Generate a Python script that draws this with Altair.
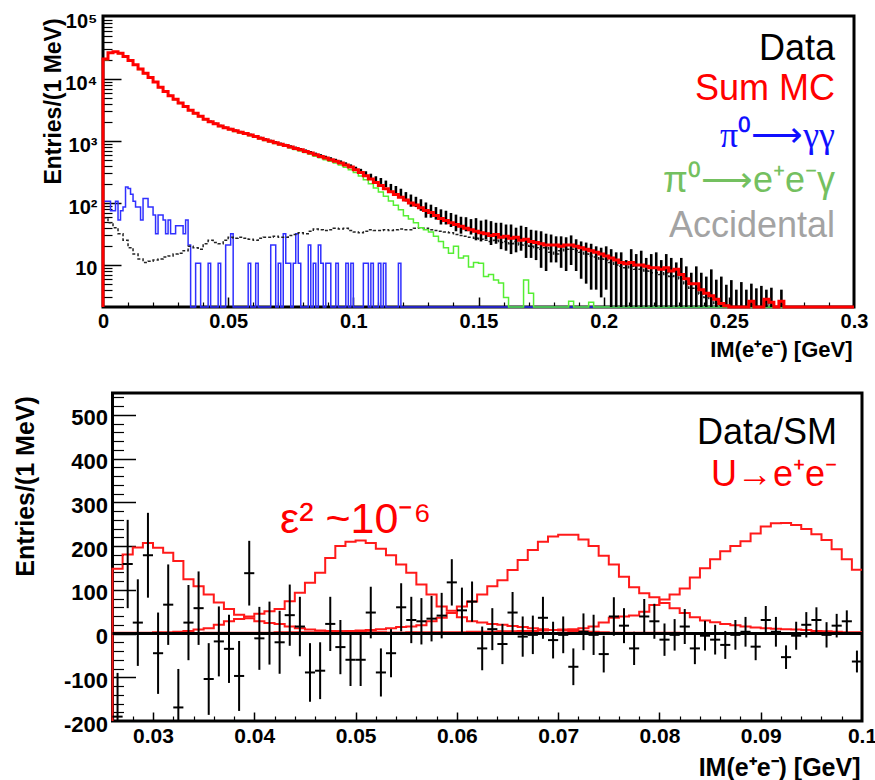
import altair as alt
import pandas as pd

W, H = 875, 780
FONT = "Liberation Sans"
SERIF = "Liberation Serif"

# ------------------------------------------------------------------
# Top panel : IM(e+e-) spectrum, log scale
# ------------------------------------------------------------------
TOP_X = [0.0, 0.3]
TOP_Y = [2.1, 1.04e5]
TOP_BIN = 0.002          # 2 MeV bins, starting at 0

sum_mc = [
    21000, 26500, 27500, 26000, 23000, 20000, 17000, 14500, 12400, 10600,
    9000, 7400, 6300, 5400, 4700, 4100, 3600, 3150, 2800, 2500,
    2250, 2050, 1900, 1750, 1630, 1550, 1460, 1380, 1320, 1250,
    1180, 1110, 1050, 990, 940, 890, 850, 800, 760, 720,
    680, 640, 600, 565, 530, 500, 470, 440, 410, 380,
    345, 310, 275, 245, 215, 192, 170, 152, 137, 124,
    112, 100, 93, 84, 76, 70, 63, 56, 52, 48,
    45, 42, 39, 37, 35, 33, 32, 30, 31, 28,
    29, 27, 28, 25, 26, 24, 23, 22, 21, 21,
    21, 20, 21, 21, 20, 19, 18, 17, 16, 15,
    14, 13, 12, 11, 10.5, 11, 10, 10, 9.5, 9,
    9, 8.5, 9, 8, 8.5, 7, 6, 5, 5, 4,
    3.5, 3.2, 2.8, 2.4, 2.2, 0, 0, 0, 0, 2.6,
    0, 0, 2.8, 2.5, 0, 2.6, 0, 0, 0, 0,
    0, 0, 0, 0, 0, 0, 0, 0, 0, 0,
]

pi0_dalitz = [
    20500, 26000, 27000, 25500, 22600, 19700, 16700, 14300, 12200, 10400,
    8850, 7300, 6200, 5300, 4620, 4030, 3540, 3100, 2750, 2460,
    2210, 2010, 1860, 1720, 1600, 1520, 1430, 1350, 1290, 1220,
    1150, 1080, 1020, 960, 910, 860, 820, 770, 730, 690,
    650, 610, 570, 535, 500, 470, 440, 410, 378, 345,
    310, 272, 238, 205, 175, 150, 128, 108, 92, 78,
    62, 55, 48, 40, 37, 34, 29, 24, 19, 15.5,
    20, 13, 14, 9.3, 11, 10.7, 6.5, 7, 5.7, 5.1,
    3, 0, 0, 0, 5.7, 3.5, 0, 0, 0, 0,
    0, 0, 0, 2.6, 0, 0, 0, 2.5, 0, 0,
    0, 0, 0, 0, 0, 0, 0, 0, 0, 0,
    0, 0, 0, 0, 0, 0, 0, 0, 0, 0,
    0, 0, 0, 0, 0, 0, 0, 0, 0, 0,
    0, 0, 0, 0, 0, 0, 0, 0, 0, 0,
    0, 0, 0, 0, 0, 0, 0, 0, 0, 0,
]

accidental = [
    58, 48, 40, 32, 25, 19, 15, 12.5, 11, 11.5,
    12, 12.5, 13.5, 14, 15, 15.5, 17, 20, 19, 18,
    22, 25, 23, 22, 25, 28, 27, 28, 27, 26,
    25, 27, 28, 28, 29, 28, 28, 30, 31, 33,
    32, 35, 38, 37, 36, 37, 39, 38, 39, 36,
    34, 33, 35, 37, 36, 36, 37, 36, 37, 38,
    37, 37, 39, 40, 39, 37, 36, 35, 34, 33,
    31, 30, 29, 28, 27, 26, 25, 24, 25, 23,
    24, 22, 24, 21, 22, 20, 19, 18, 19, 16,
    15, 17, 18, 18, 17, 16, 15, 14, 13.5, 12.5,
    12, 11, 10, 9.5, 9, 9.5, 8.5, 8.5, 8, 7.5,
    7.5, 7, 7.5, 6.5, 7, 6, 5, 4.2, 4.2, 3.4,
    3, 2.8, 2.4, 2.2, 0, 0, 0, 0, 0, 2.3,
    0, 0, 2.5, 0, 0, 2.3, 0, 0, 0, 0,
    0, 0, 0, 0, 0, 0, 0, 0, 0, 0,
]

data_top = [
    21500, 27000, 28000, 26500, 23400, 20300, 17300, 14700, 12600, 10800,
    9150, 7550, 6400, 5500, 4800, 4180, 3680, 3220, 2860, 2560,
    2300, 2100, 1940, 1790, 1670, 1590, 1500, 1420, 1350, 1280,
    1210, 1140, 1080, 1020, 965, 915, 870, 825, 785, 745,
    705, 665, 625, 590, 555, 525, 495, 465, 432, 400,
    365, 328, 300, 272, 240, 228, 205, 178, 160, 145,
    128, 112, 106, 95, 80, 76, 70, 62, 60, 55,
    50, 46, 47, 43, 41, 38, 40, 36, 35, 33,
    31, 30, 28, 30, 27, 25, 24, 22, 20, 21,
    20, 19, 18, 20, 17, 15, 14, 13, 12, 11,
    12, 10, 8, 9, 6, 10, 8, 9, 7, 8,
    9, 6, 8, 7, 6, 7, 5, 4, 5, 4,
    3.5, 4.5, 3, 3.5, 2.5, 3, 2, 2.8, 2, 2.6,
    2.2, 2.4, 2, 2.3, 0, 2.1, 0, 0, 0, 0,
    0, 0, 0, 0, 0, 0, 0, 0, 0, 0,
]

data_top_err = [
    150, 170, 170, 160, 150, 140, 130, 120, 110, 100,
    95, 87, 80, 74, 69, 65, 61, 57, 53, 51,
    48, 46, 44, 42, 41, 40, 39, 38, 37, 36,
    35, 34, 33, 32, 31, 30, 30, 29, 28, 27,
    27, 26, 25, 24, 24, 23, 22, 22, 21, 20,
    20, 28, 25, 25, 30, 25, 25, 25, 28, 25,
    22, 25, 20, 20, 22, 18, 16, 17, 15, 14,
    15, 14, 12, 12, 16, 14, 14, 15, 13, 15,
    14, 15, 12, 13, 14, 12, 12, 13, 12, 10,
    9, 10, 10, 10, 9, 9, 9, 9, 8, 8,
    8, 8, 8, 7, 6, 8, 7, 8, 6, 7,
    7, 6, 7, 6, 5, 6, 4.5, 3.5, 4.5, 3.5,
    3, 4, 2.8, 3, 2.3, 2.7, 2, 2.5, 2, 2.4,
    2, 2.2, 2, 2, 0, 1.9, 0, 0, 0, 0,
    0, 0, 0, 0, 0, 0, 0, 0, 0, 0,
]

# pi0 -> gamma gamma : 1 MeV bins from 0 to 0.12 GeV, empty up to 0.3 GeV
GG_BIN = 0.001
pi0_gg = [
    107, 107, 107, 75, 75, 107, 53, 75, 86, 182,
    171, 139, 107, 86, 86, 53, 118, 118, 86, 86,
    64, 32, 64, 64, 53, 32, 53, 32, 32, 43,
    43, 43, 32, 53, 21, 0, 0, 10.7, 10.7, 0,
    0, 0, 10.7, 0, 0, 0, 10.7, 0, 0, 21,
    21, 32, 0, 0, 0, 0, 0, 0, 10.7, 0,
    0, 10.7, 0, 0, 0, 0, 0, 21, 21, 0,
    10.7, 0, 32, 10.7, 10.7, 0, 10.7, 32, 10.7, 0,
    0, 0, 21, 0, 10.7, 0, 21, 10.7, 0, 10.7,
    10.7, 0, 0, 10.7, 0, 0, 0, 10.7, 0, 10.7,
    0, 0, 0, 0, 10.7, 10.7, 0, 10.7, 0, 0,
    10.7, 0, 10.7, 0, 0, 0, 0, 0, 10.7, 0,
    0,
]

# ------------------------------------------------------------------
# Bottom panel : Data/SM and U -> e+e- signal shapes (1 MeV bins)
# ------------------------------------------------------------------
BOT_X = [0.026, 0.1]
BOT_Y = [-200, 550]
BOT_BIN = 0.001

data_sm = [
    -190, 159, 25, 179, -45, 66, -169, 25, 58, -104,
    -18, -35, -97, 138, -11, 1, -20, 42, 16, -89,
    -85, 22, -31, -60, -60, 48, -89, -45, 60, 31,
    28, 34, 41, 117, 53, 73, -34, 10, -24, 48,
    -7, -3, 36, -15, -3, -76, 4, -3, -47, 39,
    18, -34, 39, 28, -14, -3, 16, -34, -5, -14,
    -26, -3, 4, -30, 31, 4, -54, -5, 20, 31,
    -3, 18, 28, -64,
]
data_sm_err = [
    100, 101, 99, 97, 93, 92, 88, 86, 84, 82,
    80, 78, 80, 74, 72, 72, 72, 70, 68, 67,
    65, 62, 62, 60, 60, 59, 55, 55, 55, 53,
    53, 52, 52, 53, 52, 46, 50, 48, 46, 47,
    46, 44, 48, 42, 42, 42, 42, 46, 42, 44,
    40, 38, 40, 40, 37, 36, 40, 36, 34, 34,
    32, 34, 34, 31, 32, 34, 27, 32, 29, 29,
    29, 27, 25, 25,
]

u_30 = [
    148, 181, 197, 207, 196, 185, 166, 124, 108, 89,
    71, 56, 43, 35, 28, 24, 22, 16, 12, 9,
    7, 6, 5, 4, 4, 3, 3, 2, 2, 2,
    1, 1, 1, 1, 1, 1, 1, 1, 1, 1,
    0, 0, 0, 0, 0, 0, 0, 0, 0, 0,
    0, 0, 0, 0, 0, 0, 0, 0, 0, 0,
    0, 0, 0, 0, 0, 0, 0, 0, 0, 0,
    0, 0, 0, 0,
]
u_50 = [
    2, 2, 2, 2, 3, 3, 4, 6, 9, 12,
    20, 28, 33, 39, 45, 51, 56, 74, 93, 116,
    139, 173, 200, 210, 213, 207, 194, 179, 158, 139,
    112, 89, 62, 52, 37, 28, 25, 22, 20, 17,
    15, 12, 10, 8, 7, 6, 5, 4, 3, 2,
    2, 2, 2, 2, 2, 2, 1, 1, 1, 1,
    1, 1, 1, 1, 1, 1, 1, 1, 1, 1,
    0, 0, 0, 0,
]
u_70 = [
    1, 1, 1, 1, 1, 1, 1, 1, 1, 2,
    2, 2, 2, 2, 2, 2, 3, 3, 3, 3,
    3, 4, 5, 6, 7, 8, 10, 12, 15, 16,
    19, 28, 36, 47, 62, 73, 89, 108, 122, 145,
    168, 191, 210, 222, 226, 226, 215, 200, 178, 158,
    130, 106, 92, 83, 70, 58, 47, 37, 30, 26,
    22, 19, 16, 14, 12, 11, 10, 9, 8, 6,
    5, 4, 3, 3,
]
u_90 = [
    1, 1, 1, 1, 1, 1, 1, 1, 1, 1,
    1, 1, 1, 1, 1, 1, 1, 1, 1, 1,
    1, 1, 2, 2, 2, 2, 2, 2, 2, 3,
    3, 3, 3, 3, 3, 4, 4, 4, 5, 5,
    6, 6, 7, 8, 9, 10, 12, 16, 25, 36,
    39, 41, 50, 65, 78, 89, 103, 128, 149, 170,
    188, 200, 211, 229, 245, 252, 253, 248, 239, 227,
    214, 193, 170, 146,
]

# ------------------------------------------------------------------
# helpers
# ------------------------------------------------------------------
def step_rows(x0, width, values, name, start=None, end=None):
    rows = []
    if start is not None:
        rows.append({"x": x0, "v": start, "s": name, "k": -1})
    for i, v in enumerate(values):
        rows.append({"x": x0 + i * width, "v": v, "s": name, "k": i})
    xe = end if end is not None else x0 + len(values) * width
    rows.append({"x": xe, "v": values[-1], "s": name, "k": len(values)})
    return pd.DataFrame(rows)


def tick_axis(orient, offset, values, size, width=1.5):
    return alt.Axis(orient=orient, offset=offset, values=values, labels=False,
                    domain=False, grid=False, ticks=True, tickSize=size,
                    tickWidth=width, tickColor="black", title="")


xs_top = alt.Scale(domain=TOP_X, range=[103, 854], nice=False, zero=False)
ys_top = alt.Scale(type="log", domain=TOP_Y, range=[307, 16], nice=False, clamp=True)
xs_bot = alt.Scale(domain=BOT_X, range=[112.5, 862], nice=False, zero=False)
ys_bot = alt.Scale(domain=BOT_Y, range=[721, 393], nice=False, zero=False, clamp=True)

# --- axes, top panel
top_x_lab = alt.Axis(orient="bottom", offset=307 - H, values=[0, 0.05, 0.1, 0.15, 0.2, 0.25, 0.3],
                     labelExpr="'' + datum.value", ticks=False, tickSize=0, domain=False, grid=False,
                     labelPadding=4, labelFontSize=20, labelFlush=False, labelOverlap=False,
                     title="IM(e\u207ae\u207b) [GeV]", titleX=852, titleY=49, titleAlign="right",
                     titleBaseline="alphabetic", titleFontSize=22)
top_y_lab = alt.Axis(orient="left", offset=-103, values=[10, 100, 1000, 10000, 100000],
                     labelExpr="datum.value == 10 ? '10' : '10' + (datum.value == 100 ? '\u00b2' : "
                               "datum.value == 1000 ? '\u00b3' : datum.value == 10000 ? '\u2074' : '\u2075')",
                     ticks=False, tickSize=0, domain=False, grid=False, labelPadding=6,
                     labelFontSize=20, labelOffset=4, labelFlush=False, labelOverlap=False,
                     title="Entries/(1 MeV)", titleX=-43, titleY=101, titleAngle=270,
                     titleAlign="center", titleBaseline="alphabetic", titleFontSize=23)
top_x_major = tick_axis("top", -307, [0.05, 0.1, 0.15, 0.2, 0.25], 10)
top_x_minor = tick_axis("top", -307, [m / 1000 for m in range(10, 300, 10) if m % 50], 5, 1.2)
top_y_major = tick_axis("right", 103 - W, [10, 100, 1000, 10000], 18)
top_y_minor = tick_axis("right", 103 - W,
                        [m * 10 ** p for p in range(0, 5) for m in range(2, 10)
                         if TOP_Y[0] < m * 10 ** p < TOP_Y[1]], 9, 1.2)

# --- axes, bottom panel
bot_x_lab = alt.Axis(orient="bottom", offset=721 - H,
                     values=[0.03, 0.04, 0.05, 0.06, 0.07, 0.08, 0.09, 0.1],
                     labelExpr="'' + datum.value", ticks=False, tickSize=0, domain=False, grid=False,
                     labelPadding=4, labelFontSize=21, labelFlush=False, labelOverlap=False,
                     title="IM(e\u207ae\u207b) [GeV]", titleX=860, titleY=54, titleAlign="right",
                     titleBaseline="alphabetic", titleFontSize=25)
bot_y_lab = alt.Axis(orient="left", offset=-112.5, values=list(range(-200, 501, 100)),
                     labelExpr="'' + datum.value", ticks=False, tickSize=0, domain=False, grid=False,
                     labelPadding=5, labelFontSize=22, labelOffset=3, labelFlush=False,
                     labelOverlap=False, title="Entries/(1 MeV)", titleX=-79, titleY=486,
                     titleAngle=270, titleAlign="center", titleBaseline="alphabetic", titleFontSize=25)
bot_x_major = tick_axis("top", -721, [0.03, 0.04, 0.05, 0.06, 0.07, 0.08, 0.09], 9)
bot_x_minor = tick_axis("top", -721, [m / 1000 for m in range(26, 100, 2) if m % 10], 5, 1.2)
bot_y_major = tick_axis("right", 112.5 - W, [-100, 0, 100, 200, 300, 400, 500], 23)
bot_y_minor = tick_axis("right", 112.5 - W, [v for v in range(-180, 550, 20) if v % 100], 11, 1.2)

# ------------------------------------------------------------------
# top panel layers
# ------------------------------------------------------------------
def top_line(df, color, width, xaxis=None, yaxis=None, dash=None):
    mk = dict(interpolate="step-after", color=color, strokeWidth=width)
    if dash:
        mk["strokeDash"] = dash
    return (alt.Chart(df).transform_calculate(vp="max(datum.v, 1)").mark_line(**mk)
            .encode(x=alt.X("x:Q", scale=xs_top, axis=xaxis),
                    y=alt.Y("vp:Q", scale=ys_top, axis=yaxis),
                    order="k:Q"))


frame_top = alt.Chart(pd.DataFrame({"x0": [TOP_X[0]], "x1": [TOP_X[1]],
                                    "y0": [TOP_Y[0]], "y1": [TOP_Y[1]]})).mark_rect(
    fillOpacity=0, stroke="black", strokeWidth=3).encode(
    x=alt.X("x0:Q", scale=xs_top, axis=top_x_lab), x2="x1:Q",
    y=alt.Y("y0:Q", scale=ys_top, axis=top_y_lab), y2="y1:Q")

gg_line = top_line(step_rows(0.0, GG_BIN, pi0_gg, "gg", start=0, end=TOP_X[1]),
                   "#3030ff", 1.5, top_x_major, top_y_major)
acc_line = top_line(step_rows(0.0, TOP_BIN, accidental, "acc", start=0),
                    "#222222", 1.5, top_x_minor, top_y_minor, dash=[3, 2])
dal_line = top_line(step_rows(0.0, TOP_BIN, pi0_dalitz, "dal", start=0), "#55ee33", 1.5)

df_dtop = pd.DataFrame({"x": [TOP_BIN * (i + 0.5) for i in range(len(data_top))],
                        "v": data_top, "e": data_top_err})
data_rules = (alt.Chart(df_dtop).transform_filter("datum.v > 0")
              .transform_calculate(lo="max(datum.v - datum.e, 1)", hi="datum.v + datum.e")
              .mark_rule(color="black", strokeWidth=2.6)
              .encode(x=alt.X("x:Q", scale=xs_top, axis=None),
                      y=alt.Y("lo:Q", scale=ys_top, axis=None), y2="hi:Q"))

mc_line = top_line(step_rows(0.0, TOP_BIN, sum_mc, "mc", start=0), "#ff0000", 3)

top_group = alt.layer(frame_top, gg_line, acc_line, dal_line, data_rules, mc_line).resolve_axis(
    x="independent", y="independent")

# ------------------------------------------------------------------
# bottom panel layers
# ------------------------------------------------------------------
frame_bot = alt.Chart(pd.DataFrame({"x0": [BOT_X[0]], "x1": [BOT_X[1]],
                                    "y0": [BOT_Y[0]], "y1": [BOT_Y[1]]})).mark_rect(
    fillOpacity=0, stroke="black", strokeWidth=3).encode(
    x=alt.X("x0:Q", scale=xs_bot, axis=bot_x_lab), x2="x1:Q",
    y=alt.Y("y0:Q", scale=ys_bot, axis=bot_y_lab), y2="y1:Q")

df_u = pd.concat([
    step_rows(BOT_X[0], BOT_BIN, u_30, "u30", start=BOT_Y[0]),
    step_rows(BOT_X[0], BOT_BIN, u_50, "u50"),
    step_rows(BOT_X[0], BOT_BIN, u_70, "u70"),
    step_rows(BOT_X[0], BOT_BIN, u_90, "u90"),
], ignore_index=True)
u_lines = alt.Chart(df_u).mark_line(interpolate="step-after", color="#ff1a1a", strokeWidth=2).encode(
    x=alt.X("x:Q", scale=xs_bot, axis=bot_x_major),
    y=alt.Y("v:Q", scale=ys_bot, axis=bot_y_major),
    detail="s:N", order="k:Q")

zero_line = alt.Chart(pd.DataFrame({"x0": [BOT_X[0]], "x1": [BOT_X[1]], "y": [0]})).mark_rule(
    color="black", strokeWidth=3).encode(
    x=alt.X("x0:Q", scale=xs_bot, axis=bot_x_minor), x2="x1:Q",
    y=alt.Y("y:Q", scale=ys_bot, axis=bot_y_minor))

df_dbot = pd.DataFrame({"x": [BOT_X[0] + BOT_BIN * (i + 0.5) for i in range(len(data_sm))],
                        "v": data_sm, "e": data_sm_err})
vbars = (alt.Chart(df_dbot)
         .transform_calculate(lo="datum.v - datum.e", hi="datum.v + datum.e")
         .mark_rule(color="black", strokeWidth=2)
         .encode(x=alt.X("x:Q", scale=xs_bot, axis=None),
                 y=alt.Y("lo:Q", scale=ys_bot, axis=None), y2="hi:Q"))
hbars = (alt.Chart(df_dbot)
         .transform_calculate(xl="datum.x - %f" % (BOT_BIN / 2), xr="datum.x + %f" % (BOT_BIN / 2))
         .mark_rule(color="black", strokeWidth=2)
         .encode(x=alt.X("xl:Q", scale=xs_bot, axis=None), x2="xr:Q",
                 y=alt.Y("v:Q", scale=ys_bot, axis=None)))

bot_group = alt.layer(frame_bot, u_lines, zero_line, vbars, hbars).resolve_axis(
    x="independent", y="independent")

# ------------------------------------------------------------------
# text annotations
# ------------------------------------------------------------------
ONE = pd.DataFrame({"n": [0]})


def note(text, x, y, color, size, font=FONT, align="right"):
    return alt.Chart(ONE).mark_text(text=text, align=align, baseline="alphabetic", font=font,
                                    fontSize=size, color=color).encode(
        x=alt.value(x), y=alt.value(y))


notes = [
    note("Data", 835, 60, "black", 36),
    note("Sum MC", 835, 100, "#ff0000", 36),
    note("\u03c0\u2070\u27f6\u03b3\u03b3", 835, 147, "#1010ff", 36, font=SERIF),
    note("\u03c0\u2070\u27f6e\u207ae\u207b\u03b3", 835, 192, "#74c060", 36),
    note("Accidental", 835, 237, "#a3a3a3", 36),
    note("Data/SM", 837, 444, "black", 36),
    note("U\u2192e\u207ae\u207b", 837, 486, "#ff0000", 36),
    note("\u03b5\u00b2 ~10\u207b\u2076", 280, 533, "#ff0000", 43, align="left"),
]

chart = (alt.layer(top_group, bot_group, *notes)
         .resolve_scale(x="independent", y="independent")
         .properties(width=W, height=H, autosize=alt.AutoSizeParams(type="none"), padding=0,
                     background="white")
         .configure_view(strokeWidth=0)
         .configure_axis(labelFont=FONT, titleFont=FONT, labelFontWeight="bold",
                         titleFontWeight="bold", labelColor="black", titleColor="black"))

chart.save("out.html", embed_options={"renderer": "svg", "actions": False})
